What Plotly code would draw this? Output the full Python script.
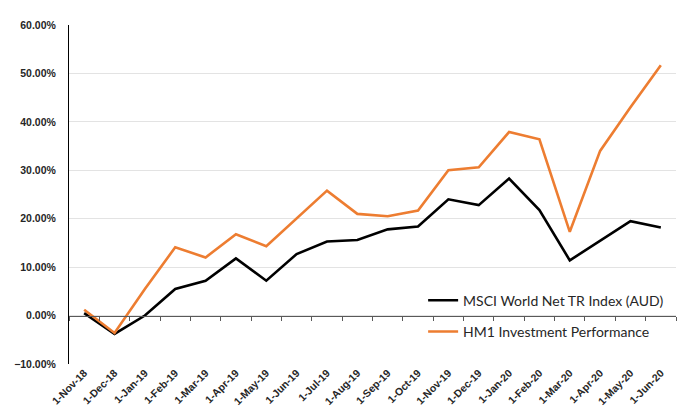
import plotly.graph_objects as go

dates = ["1-Nov-18", "1-Dec-18", "1-Jan-19", "1-Feb-19", "1-Mar-19", "1-Apr-19", "1-May-19",
         "1-Jun-19", "1-Jul-19", "1-Aug-19", "1-Sep-19", "1-Oct-19", "1-Nov-19", "1-Dec-19",
         "1-Jan-20", "1-Feb-20", "1-Mar-20", "1-Apr-20", "1-May-20", "1-Jun-20"]
msci = [0.005, -0.038, 0.0, 0.055, 0.072, 0.118, 0.072, 0.127, 0.153, 0.156, 0.178, 0.184,
        0.240, 0.228, 0.283, 0.218, 0.114, 0.155, 0.195, 0.182]
hm1 = [0.012, -0.036, 0.055, 0.141, 0.120, 0.168, 0.143, 0.200, 0.258, 0.210, 0.205, 0.217,
       0.300, 0.306, 0.379, 0.364, 0.173, 0.340, 0.430, 0.517]
ytick_vals = [-0.1, 0.0, 0.1, 0.2, 0.3, 0.4, 0.5, 0.6]

fig = go.Figure()
fig.add_trace(go.Scatter(x=dates, y=msci, mode="lines", name="MSCI World Net TR Index (AUD)",
                         line=dict(color="#000000", width=2.6), legendgroup="a"))
fig.add_trace(go.Scatter(x=dates, y=hm1, mode="lines", name="HM1 Investment Performance",
                         line=dict(color="#ED7D31", width=2.6), legendgroup="b"))
# invisible trace on helper axis used to draw the axis line at 0%
fig.add_trace(go.Scatter(x=dates, y=[None] * len(dates), xaxis="x2", showlegend=False,
                         hoverinfo="skip"))

labfont = dict(family="Liberation Sans, Arial, sans-serif", color="#262626", weight="bold")

# page body has an 8px default margin, so the figure is sized 8px smaller
fig.update_layout(
    width=678, height=408,
    margin=dict(l=61, r=10, t=17, b=52),
    paper_bgcolor="white", plot_bgcolor="white",
    showlegend=True,
    legend=dict(x=0.5834, y=0.234, xanchor="left", yanchor="top",
                font=dict(family="Lato, sans-serif", size=14, color="#262626"),
                tracegroupgap=10, bgcolor="rgba(0,0,0,0)", itemwidth=30),
    xaxis=dict(type="category", range=[-0.5, 19.5], tickangle=-45, showgrid=False,
               showline=False, ticks="", automargin=False,
               tickfont=dict(labfont, size=10.5)),
    xaxis2=dict(type="category", overlaying="x", anchor="free", position=1/7,
                matches="x", showticklabels=False, showline=True, linecolor="#595959",
                linewidth=1, ticks="outside", ticklen=4, tickcolor="#595959",
                tickson="boundaries", showgrid=False, automargin=False),
    yaxis=dict(range=[-0.1, 0.6], tickvals=ytick_vals, tickformat=".2%",
               showgrid=True, gridcolor="#e3e3e3", gridwidth=1, zeroline=False,
               showline=True, linecolor="#000000", linewidth=1, ticks="",
               ticklabelstandoff=10, automargin=False,
               tickfont=dict(labfont, size=10.5)),
)

fig.write_html("out.html")
